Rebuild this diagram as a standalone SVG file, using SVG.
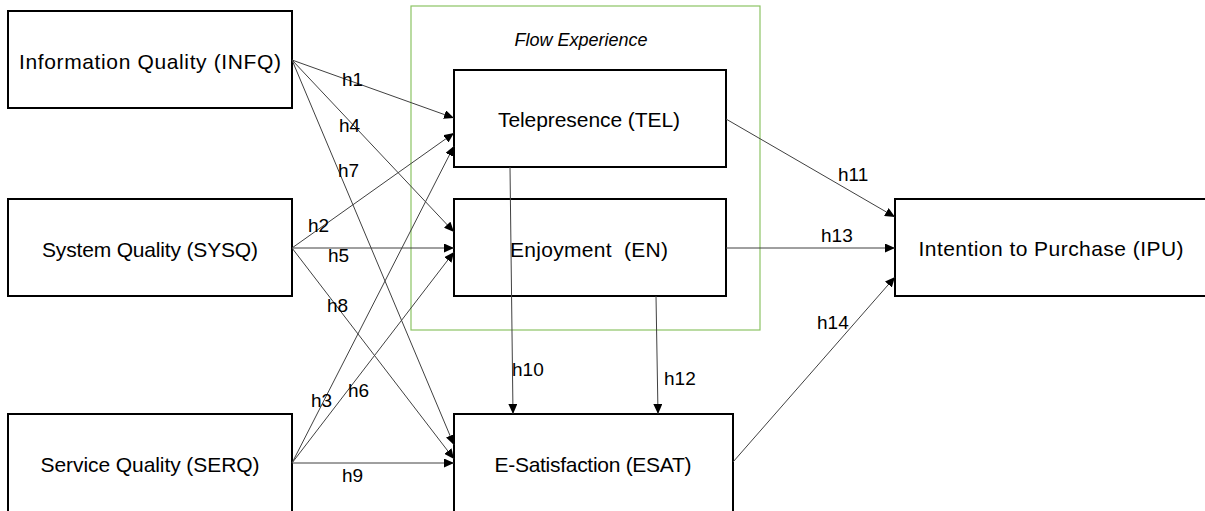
<svg xmlns="http://www.w3.org/2000/svg" width="1205" height="511" viewBox="0 0 1205 511">
<style>
.box{fill:none;stroke:#000;stroke-width:2}
.lbl{font-family:"Liberation Sans",Arial,sans-serif;font-size:21px;fill:#000;text-anchor:middle}
.h{font-family:"Liberation Sans",Arial,sans-serif;font-size:19px;fill:#000}
.c{stroke:#404040;stroke-width:1;fill:none;marker-end:url(#arr)}
</style>
<defs>
<marker id="arr" markerUnits="userSpaceOnUse" markerWidth="11" markerHeight="9" refX="10" refY="4.5" orient="auto">
<path d="M0,0 L10,4.5 L0,9 z" fill="#000"/>
</marker>
</defs>
<rect width="1205" height="511" fill="#fff"/>
<g id="flow-experience">
<rect x="411" y="6" width="349" height="324" fill="none" stroke="#8CC464" stroke-width="1.2"/>
<text x="581" y="46" style="font-family:'Liberation Sans',Arial,sans-serif;font-size:18px;font-style:italic;text-anchor:middle">Flow Experience</text>
</g>
<g id="INFQ">
<rect class="box" x="8" y="11" width="284" height="97"/>
<text class="lbl" x="150" y="69" textLength="262">Information Quality (INFQ)</text>
</g>
<g id="SYSQ">
<rect class="box" x="8" y="199" width="284" height="97"/>
<text class="lbl" x="150" y="257" textLength="216">System Quality (SYSQ)</text>
</g>
<g id="SERQ">
<rect class="box" x="8" y="414" width="284" height="100"/>
<text class="lbl" x="150" y="472" textLength="219">Service Quality (SERQ)</text>
</g>
<g id="TEL">
<rect class="box" x="454" y="70" width="272" height="97"/>
<text class="lbl" x="589" y="127" textLength="182">Telepresence (TEL)</text>
</g>
<g id="EN">
<rect class="box" x="454" y="199" width="272" height="97"/>
<text class="lbl" x="589" y="257" textLength="158" xml:space="preserve">Enjoyment  (EN)</text>
</g>
<g id="ESAT">
<rect class="box" x="454" y="414" width="279" height="100"/>
<text class="lbl" x="593" y="472" textLength="197">E-Satisfaction (ESAT)</text>
</g>
<g id="IPU">
<rect class="box" x="895" y="199" width="312" height="97"/>
<text class="lbl" x="1051" y="256" textLength="265">Intention to Purchase (IPU)</text>
</g>
<g id="connectors">
<line class="c" x1="292" y1="60" x2="454" y2="118"/>
<line class="c" x1="292" y1="60" x2="454" y2="232"/>
<line class="c" x1="292" y1="60" x2="454" y2="445"/>
<line class="c" x1="292" y1="248" x2="454" y2="133"/>
<line class="c" x1="292" y1="248" x2="454" y2="248"/>
<line class="c" x1="292" y1="248" x2="454" y2="459"/>
<line class="c" x1="292" y1="463" x2="454" y2="146"/>
<line class="c" x1="292" y1="463" x2="454" y2="252"/>
<line class="c" x1="292" y1="463" x2="454" y2="463"/>
<line class="c" x1="510" y1="167" x2="513" y2="414"/>
<line class="c" x1="656" y1="296" x2="658" y2="414"/>
<line class="c" x1="726" y1="119" x2="895" y2="217"/>
<line class="c" x1="726" y1="248" x2="895" y2="248"/>
<line class="c" x1="733" y1="462" x2="895" y2="277"/>
<g class="h">
<text x="342" y="86">h1</text>
<text x="339" y="132">h4</text>
<text x="338" y="177">h7</text>
<text x="308" y="232">h2</text>
<text x="328" y="262">h5</text>
<text x="327" y="312">h8</text>
<text x="311" y="407">h3</text>
<text x="348" y="397">h6</text>
<text x="342" y="482">h9</text>
<text x="512" y="376">h10</text>
<text x="664" y="385">h12</text>
<text x="838" y="181">h11</text>
<text x="821" y="242">h13</text>
<text x="817" y="329">h14</text>
</g>
</g>
</svg>
